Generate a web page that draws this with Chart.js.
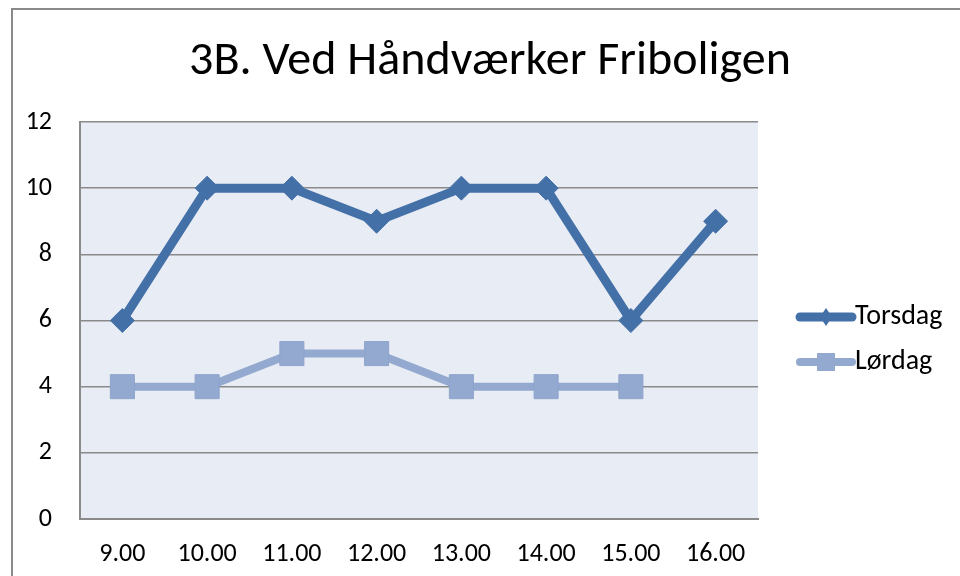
<!DOCTYPE html>
<html>
<head>
<meta charset="utf-8">
<script src="https://cdn.jsdelivr.net/npm/chart.js@4"></script>
<style>
  html, body { margin: 0; padding: 0; background: #fff; }
  #wrap { width: 960px; height: 576px; }
</style>
</head>
<body>
<div id="wrap"><canvas id="myLine" width="960" height="576"></canvas></div>
<script>
const hours = ['9.00', '10.00', '11.00', '12.00', '13.00', '14.00', '15.00', '16.00'];
const torsdag = [6, 10, 10, 9, 10, 10, 6, 9];
const lordag = [4, 4, 5, 5, 4, 4, 4, null];
const seriesNames = ['Torsdag', 'Lørdag'];
const chartTitle = '3B. Ved Håndværker Friboligen';

const fontFam = "Carlito, 'Liberation Sans Narrow', 'Open Sans', sans-serif";
const blue = '#4470a8';
const lightBlue = '#93a9cf';

// plot background, outer frame and title
const frame = {
  id: 'frame',
  beforeDraw(chart) {
    const c = chart.ctx, a = chart.chartArea;
    c.save();
    c.fillStyle = '#e8ecf4';
    c.fillRect(a.left, a.top, a.right - a.left, a.bottom - a.top);
    c.strokeStyle = '#8a8a8a';
    c.lineWidth = 2;
    c.strokeRect(12, 9, 1000, 1000);
    c.fillStyle = '#000';
    c.font = '48px ' + fontFam;
    c.textAlign = 'center';
    c.textBaseline = 'middle';
    c.fillText(chartTitle, 490, 62);
    c.restore();
  }
};

// Excel-style legend: thick line with the marker on it
const sideLegend = {
  id: 'sideLegend',
  afterDraw(chart) {
    const c = chart.ctx;
    chart.data.datasets.forEach((ds, i) => {
      const y = 317 + i * 45;
      c.save();
      c.strokeStyle = ds.borderColor;
      c.lineWidth = ds.borderWidth;
      c.lineCap = 'round';
      c.beginPath();
      c.moveTo(800, y);
      c.lineTo(852, y);
      c.stroke();
      c.fillStyle = ds.pointBackgroundColor;
      if (ds.pointStyle === 'rectRot') {
        c.beginPath();
        c.moveTo(826, y - 9); c.lineTo(832, y); c.lineTo(826, y + 9); c.lineTo(820, y);
        c.closePath(); c.fill();
      } else {
        c.fillRect(817, y - 9, 18, 18);
      }
      c.fillStyle = '#000';
      c.font = '28px ' + fontFam;
      c.textBaseline = 'middle';
      c.fillText(ds.label, 855, y);
      c.restore();
    });
  }
};

new Chart(document.getElementById('myLine'), {
  type: 'line',
  data: {
    labels: hours,
    datasets: [
      {
        label: seriesNames[0],
        data: torsdag,
        borderColor: blue,
        backgroundColor: blue,
        pointBackgroundColor: blue,
        pointBorderColor: blue,
        borderWidth: 9,
        pointStyle: 'rectRot',
        pointRadius: 12,
        pointBorderWidth: 1,
        tension: 0
      },
      {
        label: seriesNames[1],
        data: lordag,
        borderColor: lightBlue,
        backgroundColor: lightBlue,
        pointBackgroundColor: lightBlue,
        pointBorderColor: '#8ea4cc',
        borderWidth: 8,
        pointStyle: 'rect',
        pointRadius: 17,
        pointBorderWidth: 1,
        tension: 0
      }
    ]
  },
  options: {
    responsive: false,
    animation: false,
    layout: { padding: { left: 12, right: 202, top: 122, bottom: 0 } },
    plugins: {
      legend: { display: false },
      tooltip: { enabled: false },
      title: { display: false }
    },
    scales: {
      x: {
        offset: true,
        grid: { display: false },
        border: { display: true, color: '#8a8a8a', width: 2 },
        ticks: { color: '#000', font: { family: fontFam, size: 26 }, padding: 12, maxRotation: 0 },
        afterFit(s) { s.height = 57; }
      },
      y: {
        min: 0,
        max: 12,
        ticks: { stepSize: 2, color: '#000', font: { family: fontFam, size: 26 }, padding: 28 },
        grid: { color: '#8a8a8a', lineWidth: 1.5, drawTicks: false },
        border: { display: true, color: '#8a8a8a', width: 2 },
        afterFit(s) { s.width = 68; }
      }
    }
  },
  plugins: [frame, sideLegend]
});
</script>
</body>
</html>
